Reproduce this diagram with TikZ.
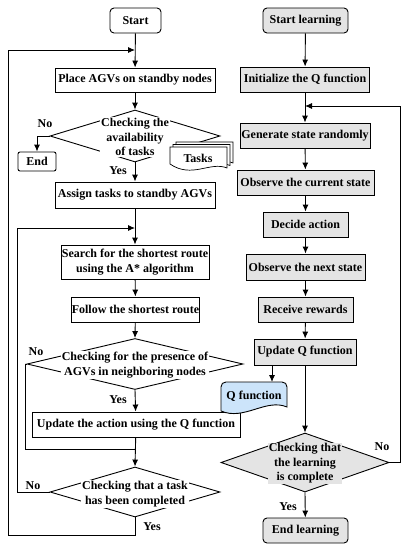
\documentclass[tikz,border=0pt]{standalone}
\usepackage{fontspec}
\setmainfont{Liberation Serif}
\usetikzlibrary{arrows,arrows.meta,positioning,shapes,shapes.geometric,calc}
\definecolor{boxgray}{RGB}{228,228,228}
\definecolor{qblue}{RGB}{204,228,250}

\begin{document}
\begin{tikzpicture}[x=1pt,y=-1pt,line width=0.9pt,>={Latex[length=7pt,width=6pt]},
  every node/.style={font=\fontsize{12}{14.5}\selectfont\bfseries},
  box/.style={draw,minimum height=25,inner sep=0pt,align=center},
  gbox/.style={box,fill=boxgray},
  term/.style={box,rounded corners=4pt},
  dia/.style={draw,diamond,inner sep=0pt},
  dtxt/.style={fill=white,inner sep=1pt,align=center},
  lbl/.style={inner sep=0pt}]
\useasboundingbox (0,0) rectangle (409,550);
% left column: AGV operation
\node[term,minimum width=51] (start) at (135.5,20.5) {Start};
\node[box,minimum width=160,minimum height=24] (place) at (135,80) {Place AGVs on standby nodes};
\node[dia,minimum width=170,minimum height=52] (d1) at (135,136) {};
\node[dtxt] (t1) at (135,137) {Checking the\\availability\\of tasks};
\node[term,minimum width=38,minimum height=19,rounded corners=2pt] (end) at (37,161.5) {End};
\node[box,minimum width=160,minimum height=26] (assign) at (135,195) {Assign tasks to standby AGVs};
\node[box,minimum width=148,minimum height=34,font=\fontsize{12}{15.5}\selectfont\bfseries] (search) at (135,262) {Search for the shortest route\\using the A* algorithm};
\node[box,minimum width=127] (follow) at (135.5,309.5) {Follow the shortest route};
\node[dia,minimum width=216,minimum height=51] (d3) at (135,364) {};
\node[dtxt] (t3) at (135,365) {Checking for the presence of\\AGVs in neighboring nodes};
\node[box,minimum width=208] (update) at (136,424.5) {Update the action using the Q function};
\node[dia,minimum width=170,minimum height=50] (d4) at (135,492) {};
\node[dtxt] (t4) at (135,494) {Checking that a task\\has been completed};
% tasks document
\foreach \dx/\dy in {6/-5,3/-2.5,0/0}{
  \begin{scope}[shift={(\dx,\dy)}]
    \draw[fill=white,line width=0.7pt] (170,147) -- (227,147) -- (227,168)
      .. controls (210,161) and (192,179) .. (170,164) -- cycle;
  \end{scope}
}
\node (tasks) at (198,158) {Tasks};
% right column: Q learning
\node[gbox,rounded corners=4pt,minimum width=85] (startL) at (305.5,20.5) {Start learning};
\node[gbox,minimum width=129] (init) at (305,79.5) {Initialize the Q function};
\node[gbox,minimum width=130] (gen) at (305,135.5) {Generate state randomly};
\node[gbox,minimum width=137] (obs) at (305.5,182.5) {Observe the current state};
\node[gbox,minimum width=85] (dec) at (305.5,224.5) {Decide action};
\node[gbox,minimum width=119,minimum height=26] (next) at (305.5,267) {Observe the next state};
\node[gbox,minimum width=95] (rew) at (305.5,309.5) {Receive rewards};
\node[gbox,minimum width=102,minimum height=26] (updq) at (305,352) {Update Q function};
\draw[fill=qblue] (221,411) -- (221,387) .. controls (221,384) and (223,382) .. (226,382)
  -- (282,382) .. controls (285,382) and (287,384) .. (287,387) -- (287,407)
  .. controls (266,398) and (244,421) .. (221,411) -- cycle;
\node (qdoc) at (254,396.5) {Q function};
\node[dia,fill=boxgray,minimum width=168,minimum height=59] (d5) at (305,462.5) {};
\node[dtxt,fill=boxgray] (t5) at (305,463.5) {Checking that\\the learning\\is complete};
\node[gbox,rounded corners=4pt,minimum width=85] (endL) at (305.5,530.5) {End learning};
% junctions
\coordinate (j1) at (135,50);
\coordinate (j2) at (135,228);
\coordinate (j3) at (135,449);
\coordinate (j4) at (305,106);
\coordinate (b1) at (8,535);
\coordinate (b2) at (17,492);
\coordinate (b3) at (25,364);
\coordinate (b4) at (400,462.5);
\coordinate (qtop) at (272,382);
% labels
\node[lbl] (no1) at (45,124) {No};
\node[lbl] (yes1) at (118,171) {Yes};
\node[lbl] (no3) at (36,352) {No};
\node[lbl] (yes3) at (118,400) {Yes};
\node[lbl] (no4) at (33,486) {No};
\node[lbl] (yes4) at (152,527) {Yes};
\node[lbl] (no5) at (382,447) {No};
\node[lbl] (yes5) at (288,507) {Yes};
% connectors
\draw[->] (start) -- (place);
\draw[->] (place) -- (d1.north);
\draw[->] (d1.west) -| (end.north);
\draw[->] (d1.south) -- (assign);
\draw[->] (assign) -- (search);
\draw[->] (search) -- (follow);
\draw[->] (follow) -- (d3.north);
\draw[->] (d3.south) -- (update);
\draw (d3.west) -- (b3) |- (j3);
\draw[->] (update) -- (d4.north);
\draw[->] (d4.west) -- (b2) |- (j2);
\draw[->] (d4.south) |- (b1) |- (j1);
\draw[->] (startL) -- (init);
\draw[->] (init) -- (gen);
\draw[->] (gen) -- (obs);
\draw[->] (obs) -- (dec);
\draw[->] (dec) -- (next);
\draw[->] (next) -- (rew);
\draw[->] (rew) -- (updq);
\draw[->] (updq.south -| qtop) -- (qtop);
\draw[->] (updq) -- (d5.north);
\draw[->] (d5.east) -- (b4) |- (j4);
\draw[->] (d5.south) -- (endL);
\end{tikzpicture}
\end{document}
